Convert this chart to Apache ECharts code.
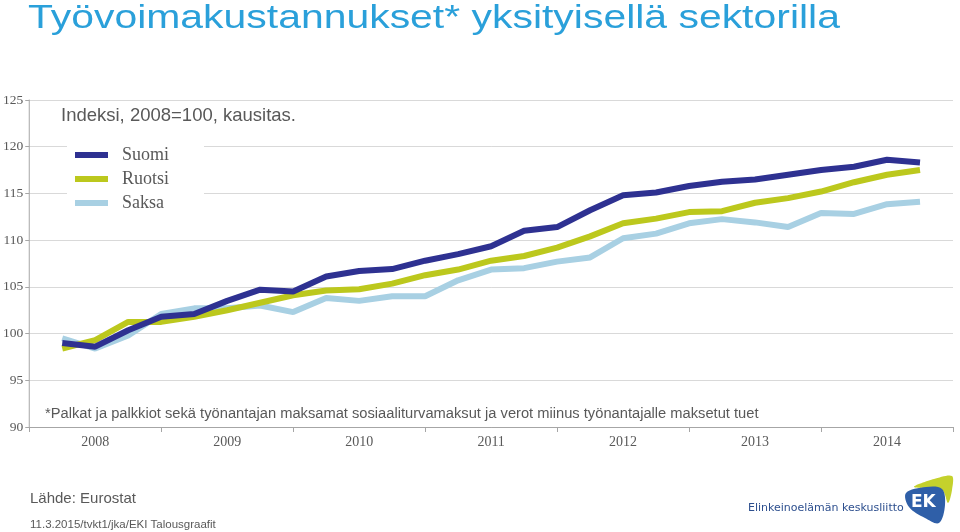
<!DOCTYPE html>
<html><head><meta charset="utf-8">
<script src="https://cdn.jsdelivr.net/npm/echarts@6/dist/echarts.min.js"></script>
<style>html,body{margin:0;padding:0;background:#fff}#c{width:960px;height:532px}</style>
</head><body><div id="c"></div>
<script>
var years = ['2008','2009','2010','2011','2012','2013','2014'];
var quarters = ['2008Q1','2008Q2','2008Q3','2008Q4','2009Q1','2009Q2','2009Q3','2009Q4','2010Q1','2010Q2','2010Q3','2010Q4','2011Q1','2011Q2','2011Q3','2011Q4','2012Q1','2012Q2','2012Q3','2012Q4','2013Q1','2013Q2','2013Q3','2013Q4','2014Q1','2014Q2','2014Q3'];
var suomi  = [99.0,98.6,100.35,101.8,102.1,103.5,104.7,104.5,106.1,106.7,106.9,107.8,108.5,109.35,111.0,111.4,113.2,114.8,115.1,115.8,116.25,116.5,117.0,117.5,117.85,118.6,118.3];
var ruotsi = [98.4,99.3,101.25,101.25,101.8,102.5,103.3,104.1,104.6,104.75,105.35,106.25,106.85,107.8,108.3,109.2,110.4,111.8,112.3,113.0,113.1,114.0,114.5,115.2,116.2,117.0,117.5];
var saksa  = [99.5,98.4,99.8,102.1,102.7,102.7,103.0,102.3,103.8,103.5,104.0,104.0,105.7,106.85,107.0,107.7,108.15,110.2,110.7,111.8,112.25,111.9,111.4,112.9,112.8,113.85,114.1];

function pairs(arr){ return arr.map(function(v,i){ return [i + 1, v]; }); }

var chart = echarts.init(document.getElementById('c'));
var serif = 'Liberation Serif, Times New Roman, serif';
chart.setOption({
  animation:false,
  backgroundColor:'#fff',
  grid:{left:27, right:7, top:100, bottom:105},
  legend:{orient:'vertical', left:67, top:142, itemWidth:33, itemHeight:6, itemGap:6,
    icon:'rect', backgroundColor:'#fff', padding:[4,35,4,8],
    textStyle:{fontFamily:serif, fontSize:18, color:'#595959', padding:[0,0,0,9]},
    data:['Suomi','Ruotsi','Saksa']},
  xAxis:[
    {type:'category', data:years, boundaryGap:true, position:'bottom',
     axisLine:{lineStyle:{color:'#a6a6a6', width:1}},
     axisTick:{show:true, length:5, lineStyle:{color:'#a6a6a6'}},
     axisLabel:{fontFamily:serif, fontSize:14, color:'#595959', margin:8},
     splitLine:{show:false}},
    {type:'value', min:0, max:28, show:false}
  ],
  yAxis:{type:'value', min:90, max:125, interval:5,
    axisLine:{show:true, lineStyle:{color:'#a6a6a6'}},
    axisTick:{show:true, length:4, lineStyle:{color:'#a6a6a6'}},
    axisLabel:{fontFamily:serif, fontSize:13.5, color:'#595959', margin:6},
    splitLine:{lineStyle:{color:'#d9d9d9'}}},
  series:[
    {name:'Suomi', type:'line', xAxisIndex:1, data:pairs(suomi), symbol:'none', z:4,
     itemStyle:{color:'#2E3191'}, lineStyle:{width:6, color:'#2E3191'}},
    {name:'Ruotsi', type:'line', xAxisIndex:1, data:pairs(ruotsi), symbol:'none', z:3,
     itemStyle:{color:'#BCC81D'}, lineStyle:{width:6, color:'#BCC81D'}},
    {name:'Saksa', type:'line', xAxisIndex:1, data:pairs(saksa), symbol:'none', z:2,
     itemStyle:{color:'#A8D0E3'}, lineStyle:{width:6, color:'#A8D0E3'}}
  ],
  graphic:[
    {type:'text', x:28, y:2, scaleX:1.24, style:{text:'Työvoimakustannukset* yksityisellä sektorilla', font:'33px Liberation Sans', fill:'#2AA0DA'}},
    {type:'text', x:61, y:106, style:{text:'Indeksi, 2008=100, kausitas.', font:'18.5px Liberation Sans', fill:'#595959'}},
    {type:'text', x:45, y:406, style:{text:'*Palkat ja palkkiot sekä työnantajan maksamat sosiaaliturvamaksut ja verot miinus työnantajalle maksetut tuet', font:'14.7px Liberation Sans', fill:'#595959'}},
    {type:'text', x:30, y:491, style:{text:'Lähde: Eurostat', font:'15px Liberation Sans', fill:'#595959'}},
    {type:'text', x:30, y:519, style:{text:'11.3.2015/tvkt1/jka/EKI Talousgraafit', font:'11.5px Liberation Sans', fill:'#595959'}},
    {type:'text', x:748, y:503, style:{text:'Elinkeinoelämän keskusliitto', font:'11px DejaVu Sans', fill:'#2D4F8E'}},
    {type:'polygon', shape:{points:[[914,487],[934,479],[952,476],[952,490],[948,503],[942,490]], smooth:0.3}, style:{fill:'#C4D12C'}},
    {type:'polygon', shape:{points:[[906,493],[926,487],[942,489],[945,505],[939,523],[925,518],[909,507]], smooth:0.35}, style:{fill:'#2F5FA8'}},
    {type:'text', x:911, y:494, style:{text:'EK', font:'bold 17px DejaVu Sans', fill:'#fff'}}
  ]
});
</script></body></html>
